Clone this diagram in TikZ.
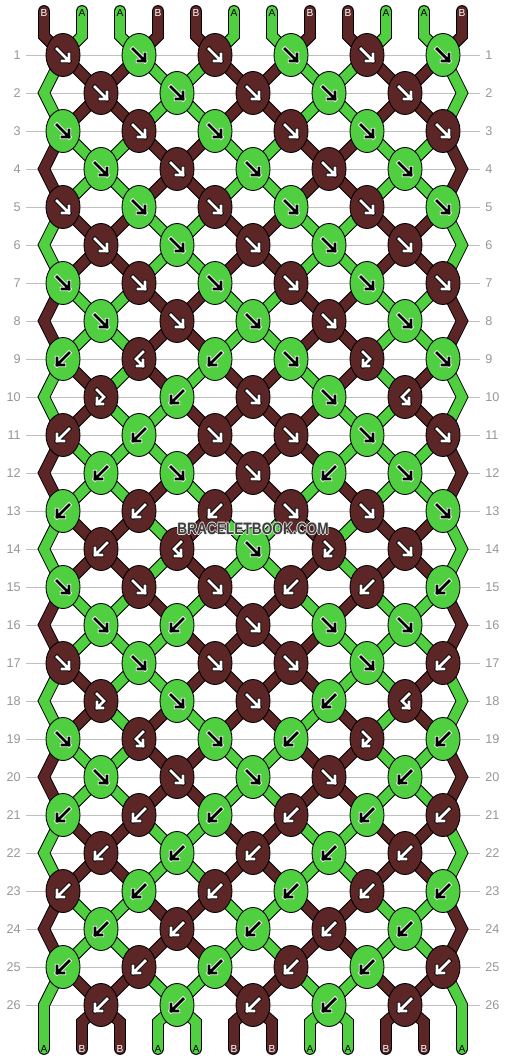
\documentclass[tikz,border=0pt]{standalone}
\usepackage{fontspec}
\setmainfont{Liberation Sans}
\usepackage{xcolor}
\usepackage{tikz}
\usetikzlibrary{shapes.geometric}

\definecolor{strA}{RGB}{80,208,64}
\definecolor{strB}{RGB}{92,38,38}
\definecolor{rowgray}{RGB}{150,150,150}
\definecolor{linegray}{RGB}{192,192,192}
\definecolor{wmgray}{RGB}{60,60,60}
\definecolor{wmhalo}{RGB}{235,235,235}

% which string gives the knot its colour, and whether the strings swap
\def\sidef{\p}\def\sideb{\q}\def\sidefb{\p}\def\sidebf{\q}
\def\swapf{1}\def\swapb{1}\def\swapfb{0}\def\swapbf{0}
% arrow glyphs, relative to the knot centre
\def\glyphf{++(-6,-6) -- ++(12,12) ++(-7,0) -- ++(7,0) -- ++(0,-7)}
\def\glyphb{++(6,-6) -- ++(-12,12) ++(7,0) -- ++(-7,0) -- ++(0,-7)}
\def\glyphfb{++(-4,-7) -- ++(7,7) -- ++(-7,7) ++(6,0) -- ++(-6,0) -- ++(0,-6)}
\def\glyphbf{++(4,-7) -- ++(-7,7) -- ++(7,7) ++(-6,0) -- ++(6,0) -- ++(0,-6)}

\gdef\pathsA{}\gdef\pathsB{}\gdef\glyphsA{}\gdef\glyphsB{}\gdef\knotcmds{}
\newcommand\addseg[3]{%
\expandafter\xdef\csname paths#3\endcsname{\csname paths#3\endcsname (#1.center) -- (#2.center)}}
\newcommand\halotext[1]{\leavevmode
  \rlap{\color{wmhalo}\hspace*{-0.45pt}#1}\rlap{\color{wmhalo}\hspace*{0.45pt}#1}%
  \rlap{\color{wmhalo}\raisebox{0.45pt}{#1}}\rlap{\color{wmhalo}\raisebox{-0.45pt}{#1}}#1}

\tikzset{
knot/.style={ellipse, draw=black, line width=0.5pt, minimum width=0.68cm, minimum height=0.86cm, inner sep=0pt},
threadedge/.style={draw=black, line width=6.7pt, line cap=round, line join=miter},
thread/.style={line width=5.6pt, line cap=round, line join=miter},
rowline/.style={draw=linegray, line width=0.5pt},
rownum/.style={text=rowgray, inner sep=0pt, font=\fontsize{7.2}{8}\selectfont},
endlabel/.style={inner sep=0pt, font=\fontsize{5.8}{7}\selectfont},
endlabelA/.style={endlabel, text=black},
endlabelB/.style={endlabel, text=white},
glyph/.style={line width=0.45pt, double distance=1.6pt, line cap=rect, line join=miter},
arrA/.style={draw=white, double=black},
arrB/.style={draw=black, double=white},
watermark/.style={text=wmgray, inner sep=0pt, font=\bfseries\fontsize{7.8}{9}\selectfont}
}

\begin{document}
\begin{tikzpicture}[x=0.02cm,y=-0.02cm]
\useasboundingbox (0,0) rectangle (506,1060);

\foreach \ch [count=\p] in {B,A,A,B,B,A,A,B,B,A,A,B} {
  \coordinate (top-\p) at (6+38*\p,11);
  \coordinate (s-\p) at (6+38*\p,36);
  \expandafter\xdef\csname col\p\endcsname{\ch}
  \expandafter\xdef\csname at\p\endcsname{top-\p.center) -- (s-\p}
}

\foreach \kts [count=\r] in {%
{f,f,f,f,f,f},{f,f,f,f,f},{f,f,f,f,f,f},{f,f,f,f,f},%
{f,f,f,f,f,f},{f,f,f,f,f},{f,f,f,f,f,f},{f,f,f,f,f},%
{b,bf,b,f,fb,f},{fb,b,f,f,bf},{b,b,f,f,f,f},{b,f,f,b,f},%
{b,b,b,f,f,f},{b,bf,f,fb,f},{f,f,f,b,b,b},{f,b,f,f,f},%
{f,f,f,f,f,b},{fb,f,f,b,bf},{f,bf,f,b,fb,b},{f,f,f,f,b},%
{b,b,b,b,b,b},{b,b,b,b,b},{b,b,b,b,b,b},{b,b,b,b,b},%
{b,b,b,b,b,b},{b,b,b,b,b}} {
  \pgfmathtruncatemacro\ky{17+38*\r}
  \pgfmathtruncatemacro\off{1-mod(\r,2)}
  \draw[rowline] (26,\ky) -- (480,\ky);
  \node[rownum, anchor=east] (nl-\r) at (21,\ky) {\r};
  \node[rownum, anchor=west] (nr-\r) at (485,\ky) {\r};
  \ifnum\off=1
    % edge strings turn at the side and go on with the next row
    \coordinate (e-\r-1) at (44,\ky);
    \coordinate (e-\r-12) at (462,\ky);
    \expandafter\xdef\csname at1\endcsname{\csname at1\endcsname.center) -- (e-\r-1}
    \expandafter\xdef\csname at12\endcsname{\csname at12\endcsname.center) -- (e-\r-12}
  \fi
  \foreach \t [count=\k] in \kts {
    \pgfmathtruncatemacro\p{2*\k-1+\off}
    \pgfmathtruncatemacro\q{\p+1}
    \edef\cL{\csname col\p\endcsname}
    \edef\cR{\csname col\q\endcsname}
    \edef\aL{\csname at\p\endcsname}
    \edef\aR{\csname at\q\endcsname}
    \edef\kc{\csname col\csname side\t\endcsname\endcsname}
    \coordinate (c-\r-\p) at (25+38*\p,\ky);
    \xdef\knotcmds{\unexpanded\expandafter{\knotcmds}\noexpand\node[knot, fill=str\kc] (k-\r-\p) at (c-\r-\p) {};}
    \expandafter\xdef\csname glyphs\kc\endcsname{\csname glyphs\kc\endcsname (k-\r-\p.center) \csname glyph\t\endcsname}
    \addseg{\aL}{c-\r-\p}{\cL}
    \addseg{\aR}{c-\r-\p}{\cR}
    \ifnum\csname swap\t\endcsname=1
      \expandafter\xdef\csname col\p\endcsname{\cR}
      \expandafter\xdef\csname col\q\endcsname{\cL}
    \fi
    \expandafter\xdef\csname at\p\endcsname{c-\r-\p}
    \expandafter\xdef\csname at\q\endcsname{c-\r-\p}
  }
}

\foreach \p in {1,...,12} {
  \edef\aL{\csname at\p\endcsname}
  \edef\cL{\csname col\p\endcsname}
  \coordinate (d-\p) at (6+38*\p,1022);
  \coordinate (bot-\p) at (6+38*\p,1049);
  \addseg{\aL}{d-\p.center) -- (bot-\p}{\cL}
}

\draw[threadedge] \pathsA \pathsB;
\draw[thread, draw=strA] \pathsA;
\draw[thread, draw=strB] \pathsB;
\knotcmds
\draw[glyph, arrA] \glyphsA;
\draw[glyph, arrB] \glyphsB;

\foreach \ch [count=\p] in {B,A,A,B,B,A,A,B,B,A,A,B}
  \node[endlabel\ch] (tl-\p) at (6+38*\p,13) {\ch};
\foreach \p in {1,...,12} {
  \edef\cL{\csname col\p\endcsname}
  \node[endlabel\cL] (bl-\p) at (bot-\p) {\cL};
}

\node[watermark] (wm) at (253,529) {\scalebox{1}[1.2]{\halotext{BRACELETBOOK.COM}}};
\end{tikzpicture}
\end{document}
